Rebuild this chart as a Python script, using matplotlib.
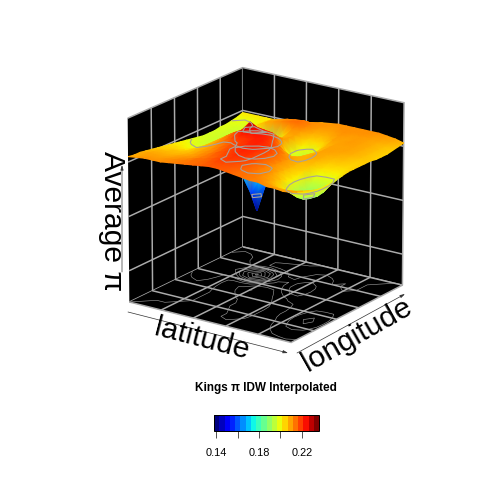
import numpy as np
import matplotlib
matplotlib.use("Agg")
import matplotlib.pyplot as plt
from matplotlib.colors import Normalize
from matplotlib.cm import ScalarMappable
from mpl_toolkits.mplot3d import proj3d

plt.rcParams['font.family'] = ['Liberation Sans', 'DejaVu Sans']

# Average pi (x 1000); rows = latitude, columns = longitude
latitude = np.linspace(0, 1, 21)
longitude = np.linspace(0, 1, 21)
pi_rows = [
    [210,209,209,208,207,206,205,204,203,202,201,200,199,198,198,198,199,199,200,201,203],
    [211,210,210,209,208,206,205,204,202,201,199,198,197,197,197,197,197,198,199,200,203],
    [212,211,210,209,208,207,205,203,201,200,198,197,196,196,196,196,196,197,198,201,203],
    [212,211,210,209,208,207,206,205,204,203,201,200,199,197,195,195,197,200,201,202,203],
    [212,212,211,210,209,208,208,208,208,208,208,207,203,190,178,189,201,205,205,204,203],
    [213,213,212,211,210,210,210,210,211,212,213,213,196,168,158,168,195,209,209,206,203],
    [214,214,213,212,212,212,212,213,214,216,218,213,188,155,136,155,188,211,211,207,203],
    [215,215,215,214,214,214,215,216,218,221,222,216,196,170,160,170,196,213,213,208,203],
    [216,216,216,216,217,217,218,219,222,226,231,223,212,198,188,194,205,215,214,210,205],
    [217,217,218,218,219,220,220,221,222,225,226,223,217,212,208,209,212,216,215,211,207],
    [218,219,220,220,221,222,222,223,224,225,225,222,216,211,210,210,211,213,213,212,210],
    [218,219,221,222,223,224,224,224,224,222,219,212,203,199,199,202,206,209,211,212,211],
    [217,218,219,221,222,222,222,222,220,217,212,203,195,192,193,198,204,208,210,211,212],
    [216,216,217,218,218,218,218,217,215,212,208,201,196,195,197,202,206,209,211,212,212],
    [215,215,215,214,214,213,212,212,211,210,209,208,207,206,207,208,210,211,212,212,212],
    [214,214,213,212,211,209,208,208,208,208,209,210,210,210,210,210,210,210,211,212,212],
    [214,212,210,208,206,203,202,203,205,207,208,209,209,210,210,210,211,211,211,212,212],
    [212,210,206,202,197,193,191,192,196,201,204,206,208,209,210,210,210,210,210,211,212],
    [212,209,205,200,194,190,188,190,195,200,203,205,207,208,209,209,209,209,209,210,211],
    [211,209,206,202,198,194,192,193,196,200,202,204,205,206,207,207,207,207,207,209,210],
    [212,210,208,206,204,203,203,203,204,205,206,206,206,206,206,205,205,205,206,207,208],
]
z_limits = (0.076, 0.245)
z_ticks = [0.105, 0.155, 0.205]
lat_ticks = [0.2, 0.4, 0.6, 0.8]
lon_ticks = [0.2, 0.4, 0.6, 0.8]
surface_levels = [0.15, 0.175, 0.19, 0.20, 0.22, 0.225]
floor_levels = [0.14, 0.15, 0.16, 0.17, 0.18, 0.19, 0.20, 0.21, 0.22, 0.23]
colour_range = (0.138, 0.236)
bar_ticks = [0.14, 0.16, 0.18, 0.20, 0.22]
bar_labels = ['0.14', '', '0.18', '', '0.22']

title = 'Kings π IDW Interpolated'

PX = 504.0
GRID = '#ABABAB'
plt.rcParams['grid.color'] = GRID
plt.rcParams['grid.linewidth'] = 1.5

fig = plt.figure(figsize=(7, 7), dpi=72)
fig.patch.set_facecolor('white')

ax = fig.add_axes([97 / PX, 132 / PX, 330 / PX, 330 / PX], projection='3d',
                  proj_type='persp', focal_length=3)
ax.set_box_aspect((1, 1, 0.985))
ax.view_init(elev=19.5, azim=-55)
ax.set_xlim(0, 1, view_margin=0)
ax.set_ylim(0, 1, view_margin=0)
ax.set_zlim(*z_limits, view_margin=0)
ax.set_xticks(lat_ticks)
ax.set_yticks(lon_ticks)
ax.set_zticks(z_ticks)
ax.set_xticklabels([])
ax.set_yticklabels([])
ax.set_zticklabels([])
ax.patch.set_alpha(0)
for axis in (ax.xaxis, ax.yaxis, ax.zaxis):
    axis.set_pane_color('black')
    axis.pane.set_edgecolor(GRID)
    axis.pane.set_linewidth(1.5)
    axis.line.set_color((0, 0, 0, 0))
    axis._axinfo['tick']['inward_factor'] = 0
    axis._axinfo['tick']['outward_factor'] = 0
    axis._axinfo['grid']['color'] = GRID
    axis._axinfo['grid']['linewidth'] = 1.5
    axis.set_tick_params(length=0, pad=0)

# Project through the 3D axes' own view
Z = np.array(pi_rows) / 1000.0
LAT, LON = np.meshgrid(latitude, longitude, indexing='ij')
M = ax.get_proj()
sx, sy, _ = proj3d.proj_transform(LAT.ravel(), LON.ravel(), Z.ravel(), M)
fx, fy, _ = proj3d.proj_transform(LAT.ravel(), LON.ravel(),
                                  np.full(Z.size, z_limits[0]), M)
sx, sy = sx.reshape(Z.shape), sy.reshape(Z.shape)
fx, fy = fx.reshape(Z.shape), fy.reshape(Z.shape)

over = fig.add_axes([0, 0, 1, 1])
over.set_axis_off()
over.patch.set_alpha(0)

norm = Normalize(*colour_range)
cmap = plt.get_cmap('jet', 256)
tr = ax.transData

over.contour(fx, fy, Z, levels=floor_levels, colors='#9A9A9A',
             linewidths=0.6, transform=tr, zorder=2)
# columns reversed so that the far corner is painted first
mesh = over.pcolormesh(sx[:, ::-1], sy[:, ::-1], Z[:, ::-1], shading='gouraud',
                       cmap=cmap, norm=norm, transform=tr, zorder=3)
mesh.set_clip_on(False)
over.contour(sx, sy, Z, levels=surface_levels, colors='#A8A29A',
             linewidths=1.1, transform=tr, zorder=4)


def arrow(x0, y0, x1, y1):
    over.annotate('', xy=(x1, PX - y1), xytext=(x0, PX - y0),
                  xycoords='figure pixels', textcoords='figure pixels',
                  arrowprops=dict(arrowstyle='-|>,head_width=0.12,head_length=0.4',
                                  lw=0.7, color='#333333', shrinkA=0, shrinkB=0))


arrow(122, 272, 122, 165)
arrow(128, 312, 288, 353)
arrow(297, 353, 405, 294)

fig.text(112 / PX, 1 - 221 / PX, 'Average π', rotation=-90, fontsize=30,
         ha='center', va='center')
fig.text(202 / PX, 1 - 339 / PX, 'latitude', rotation=-14.5, fontsize=30,
         ha='center', va='center', rotation_mode='anchor')
fig.text(357 / PX, 1 - 335 / PX, 'longitude', rotation=29.5, fontsize=30,
         ha='center', va='center', rotation_mode='anchor')
fig.text(266 / PX, 1 - 388 / PX, title, fontsize=11.8, fontweight='bold',
         ha='center', va='center')

cax = fig.add_axes([214 / PX, 1 - 431 / PX, 105 / PX, 16 / PX])
bar_map = plt.get_cmap('jet', 20)
cb = fig.colorbar(ScalarMappable(norm=norm, cmap=bar_map), cax=cax,
                  orientation='horizontal', ticks=bar_ticks)
cb.ax.set_xticklabels(bar_labels, fontsize=11)
cb.ax.tick_params(length=6.5, width=1, pad=10, color='#555555')
cb.outline.set_linewidth(1)

fig.savefig('out.png', dpi=72)
